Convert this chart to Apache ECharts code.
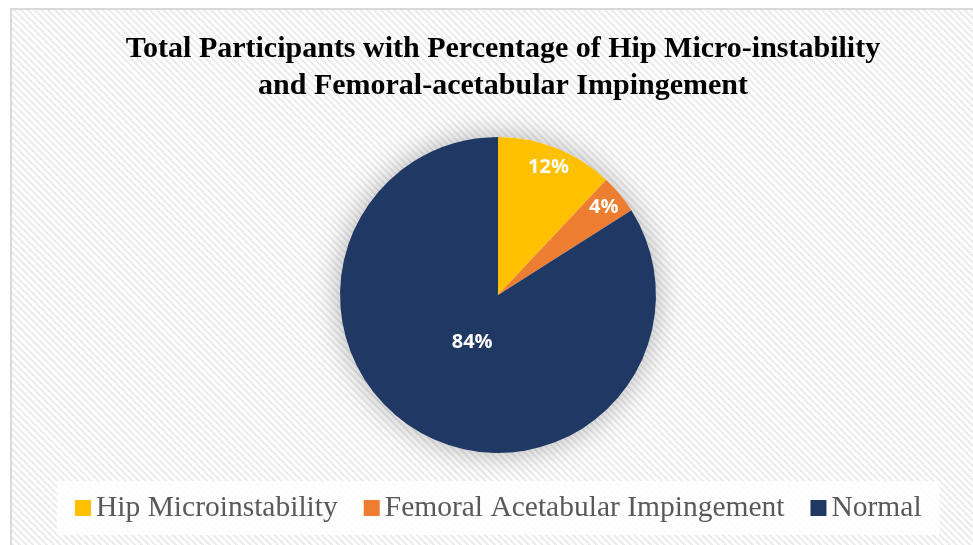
<!DOCTYPE html>
<html>
<head>
<meta charset="utf-8">
<script src="https://cdn.jsdelivr.net/npm/echarts@6/dist/echarts.min.js"></script>
<style>
  html, body { margin: 0; padding: 0; background: #ffffff; overflow: hidden; }
  .frame {
    position: absolute;
    left: 10px;
    top: 8px;
    width: 1000px;
    height: 600px;
    border: 2px solid #d9d9d9;
    background: repeating-linear-gradient(45deg, #ffffff 0px, #ffffff 2.2px, #ebebeb 2.8px, #ebebeb 4.2px, #ffffff 4.8px);
  }
  .echarts { position: absolute; left: 0; top: 0; width: 973px; height: 545px; }
</style>
</head>
<body>
<div class="frame"></div>
<div class="echarts" id="main"></div>
<script>
// 数据
const categories = ['Hip Microinstability', 'Femoral Acetabular Impingement', 'Normal']
const percentValues = [12, 4, 84]
const sliceColors = ['#FFC000', '#ED7D31', '#203864']
// 哪些标签放外圈 (小扇区) / 内圈 (大扇区)
const outerLabelIdx = [0, 1]
const innerLabelIdx = [2]

const center = [498, 295]
const radius = 158

const chart = echarts.init(document.getElementById('main'))

const sliceData = categories.map((name, i) => ({
  name: name,
  value: percentValues[i],
  itemStyle: { color: sliceColors[i] },
}))

// 只显示标签的透明环
const labelRing = (r, showIdx) => ({
  type: 'pie',
  silent: true,
  center: center,
  radius: r,
  startAngle: 90,
  clockwise: true,
  percentPrecision: 0,
  emphasis: { disabled: true },
  labelLine: { show: false },
  label: {
    show: true,
    position: 'inside',
    color: '#ffffff',
    fontFamily: 'Open Sans',
    fontWeight: 'bold',
    fontSize: 20,
    formatter: (p) => (showIdx.indexOf(p.dataIndex) >= 0 ? p.percent + '%' : ''),
  },
  itemStyle: { color: 'transparent', borderWidth: 0 },
  data: categories.map((name, i) => ({ name: 'lbl' + i, value: percentValues[i] })),
})

chart.setOption({
  animation: false,
  title: {
    text: 'Total Participants with Percentage of Hip Micro-instability\nand Femoral-acetabular Impingement',
    left: center[0],
    textAlign: 'center',
    top: 26,
    textStyle: {
      fontFamily: 'Liberation Serif',
      fontWeight: 'bold',
      fontSize: 30,
      lineHeight: 37,
      color: '#000000',
    },
  },
  legend: {
    bottom: 10,
    left: 57,
    icon: 'rect',
    itemWidth: 16,
    itemHeight: 16,
    itemGap: 26,
    padding: [12, 18],
    backgroundColor: 'rgba(255,255,255,0.85)',
    textStyle: {
      fontFamily: 'Liberation Serif',
      fontSize: 29.5,
      color: '#595959',
    },
    data: categories.map((name, i) => ({ name: name, itemStyle: { color: sliceColors[i] } })),
  },
  series: [
    {
      // 阴影底
      type: 'pie',
      silent: true,
      center: center,
      radius: radius,
      label: { show: false },
      labelLine: { show: false },
      emphasis: { disabled: true },
      itemStyle: {
        color: '#ffffff',
        shadowBlur: 30,
        shadowColor: 'rgba(0,0,0,0.3)',
      },
      data: [{ name: '', value: 1 }],
    },
    {
      type: 'pie',
      center: center,
      radius: radius,
      startAngle: 90,
      clockwise: true,
      label: { show: false },
      labelLine: { show: false },
      emphasis: { disabled: true },
      itemStyle: { borderWidth: 0 },
      data: sliceData,
    },
    labelRing([radius * 0.68, radius * 1.02], outerLabelIdx),
    labelRing([0, radius * 0.64], innerLabelIdx),
  ],
})
</script>
</body>
</html>
